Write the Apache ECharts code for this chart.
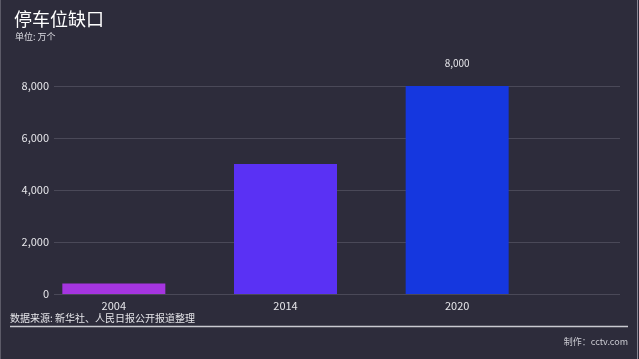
<!DOCTYPE html>
<html>
<head>
<meta charset="utf-8">
<script src="https://cdn.jsdelivr.net/npm/echarts@6/dist/echarts.min.js"></script>
<style>
html,body{margin:0;padding:0;background:#2d2c3b;}
#c{width:639px;height:359px;}
</style>
</head>
<body>
<div id="c"></div>
<script>
const categories = ['2004', '2014', '2020'];
const values = [400, 5000, 8000];
const barColors = ['#a535e0', '#5a31f4', '#1537df'];
const yTicks = [0, 2000, 4000, 6000, 8000];
const titleText = '停车位缺口';
const unitText = '单位: 万个';
const sourceText = '数据来源: 新华社、人民日报公开报道整理';
const creditText = '制作：cctv.com';

const font = '"Noto Sans CJK SC", "Noto Sans", sans-serif';
const chart = echarts.init(document.getElementById('c'));
chart.setOption({
  backgroundColor: '#2d2c3b',
  animation: false,
  textStyle: { fontFamily: font },
  title: [
    { text: titleText, left: 9, top: 5, textStyle: { color: '#ffffff', fontSize: 18, fontWeight: 'normal', fontFamily: font } },
    { text: unitText, left: 10, top: 27, textStyle: { color: '#dcdce2', fontSize: 9, fontWeight: 'normal', fontFamily: font } }
  ],
  grid: [
    { left: 54, right: 19, top: 86, bottom: 65, containLabel: false },
    { left: 28, width: 515, top: 86, bottom: 65, containLabel: false }
  ],
  xAxis: [
    { gridIndex: 0, type: 'category', data: categories, show: false },
    { gridIndex: 1, type: 'category', data: categories,
      axisLine: { show: false }, axisTick: { show: false },
      axisLabel: { color: '#e6e6ea', fontSize: 11, margin: 6, fontFamily: font } }
  ],
  yAxis: [
    { gridIndex: 0, type: 'value', min: 0, max: 8000, interval: 2000,
      axisLine: { show: false }, axisTick: { show: false },
      axisLabel: { color: '#e6e6ea', fontSize: 11, margin: 5, fontFamily: font,
        formatter: v => v.toLocaleString('en-US') },
      splitLine: { lineStyle: { color: '#4a4958', width: 1 } } },
    { gridIndex: 1, type: 'value', min: 0, max: 8000, interval: 2000, show: false }
  ],
  series: [{
    type: 'bar',
    xAxisIndex: 1, yAxisIndex: 1,
    barCategoryGap: '40%',
    data: values.map((v, i) => ({ value: v, itemStyle: { color: barColors[i] } })),
    label: { show: true, position: 'top', distance: 18, color: '#e6e6ea', fontSize: 10, fontFamily: font,
      formatter: p => p.dataIndex === 2 ? p.value.toLocaleString('en-US') : '' }
  }],
  graphic: [
    { type: 'text', left: 10, top: 313, style: { text: sourceText, fill: '#e6e6ea', fontSize: 10, fontFamily: font } },
    { type: 'line', shape: { x1: 10, y1: 326.5, x2: 628, y2: 326.5 }, style: { stroke: '#c9c9d0', lineWidth: 1.5 } },
    { type: 'text', right: 11, top: 337, style: { text: creditText, fill: '#c9c9d0', fontSize: 9, fontFamily: font } },
    { type: 'line', shape: { x1: 0.5, y1: 0, x2: 0.5, y2: 359 }, style: { stroke: '#5c5b68', lineWidth: 1 } },
    { type: 'line', shape: { x1: 637.5, y1: 0, x2: 637.5, y2: 359 }, style: { stroke: '#8a8996', lineWidth: 1 } }
  ]
});
</script>
</body>
</html>
